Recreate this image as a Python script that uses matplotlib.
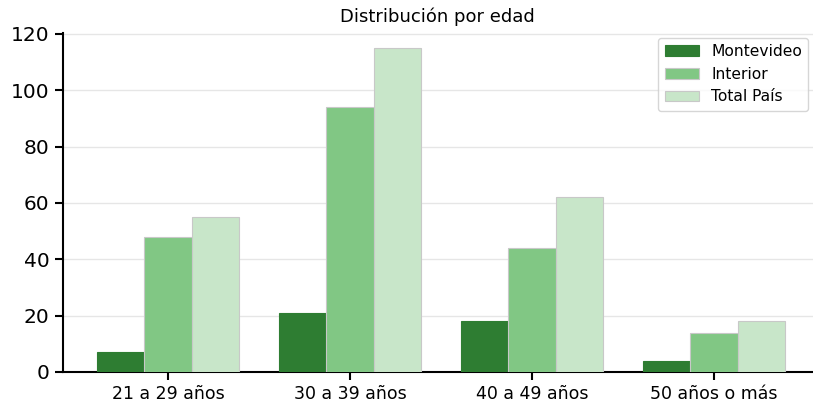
import numpy as np
import matplotlib.pyplot as plt

plt.rcParams["font.family"] = "DejaVu Sans"

# Datos por grupo de edad
categorias = ["21 a 29 años", "30 a 39 años", "40 a 49 años", "50 años o más"]
montevideo = [7, 21, 18, 4]
interior = [48, 94, 44, 14]
total_pais = [55, 115, 62, 18]

series = ["Montevideo", "Interior", "Total País"]
colores = ["#2e7d32", "#81c784", "#c8e6c9"]

fig = plt.figure(figsize=(8.13, 4.03), dpi=100)
ax = fig.add_axes([0.077, 0.077, 0.923, 0.841])

x = np.arange(len(categorias))
ancho = 0.26
for i, (nombre, valores, color) in enumerate(zip(series, [montevideo, interior, total_pais], colores)):
    ax.bar(x + (i - 1) * ancho, valores, ancho, label=nombre, color=color,
           edgecolor="#c8c8c8" if i > 0 else color, linewidth=0.8, zorder=3)

ax.set_xticks(x)
ax.set_xticklabels(categorias, fontsize=12.5)
ax.tick_params(axis="y", labelsize=14.5)
ax.set_xlim(-0.58, 3.545)
ax.set_ylim(0, 120.3)
ax.set_yticks([0, 20, 40, 60, 80, 100, 120])
ax.yaxis.grid(True, color="#e6e6e6", linewidth=1, zorder=0)
ax.spines["top"].set_visible(False)
ax.spines["right"].set_visible(False)
ax.spines["left"].set_linewidth(1.5)
ax.spines["bottom"].set_linewidth(1.5)
ax.tick_params(width=1.5, length=6)
ax.set_title("Distribución por edad", fontsize=13, pad=8)
ax.legend(loc="upper right", fontsize=11.2, frameon=True, borderaxespad=0.3,
          handlelength=2.2)

fig.savefig("out.png", dpi=100)
